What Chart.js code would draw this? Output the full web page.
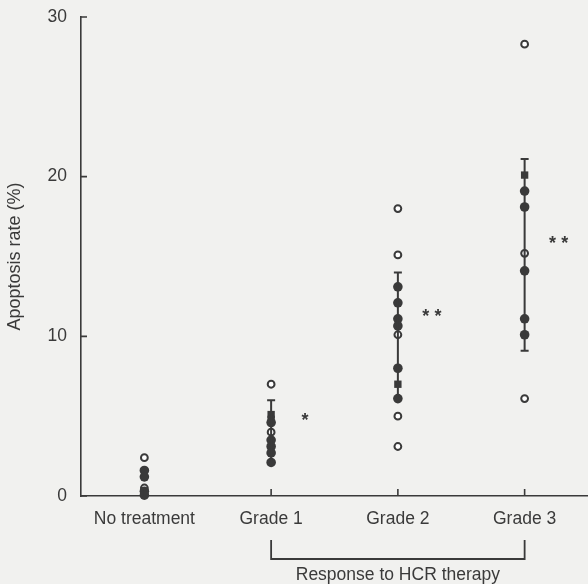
<!DOCTYPE html>
<html>
<head>
    <title>Apoptosis rate</title>
    <script src="https://cdn.jsdelivr.net/npm/chart.js@4.4.1/dist/chart.umd.min.js"></script>
    <style>
        body { margin: 0; background: #f1f1ef; }
        #wrap { width: 588px; height: 584px; }
    </style>
</head>
<body>
<div id="wrap"><canvas id="myChart" width="588" height="584"></canvas></div>
<script>
    // categories on the x axis
    const categories = ['No treatment', 'Grade 1', 'Grade 2', 'Grade 3'];

    // individual cases, one list per category (same order as categories)
    const filledCircles = [
        [1.6, 1.2, 0.3, 0.05],
        [4.6, 3.5, 3.1, 2.7, 2.1],
        [13.1, 12.1, 11.1, 10.65, 8.0, 6.1],
        [19.1, 18.1, 14.1, 11.1, 10.1]
    ];
    const openCircles = [
        [2.4, 0.5],
        [7.0, 4.0],
        [18.0, 15.1, 10.1, 5.0, 3.1],
        [28.3, 15.2, 6.1]
    ];
    const squares = [
        [],
        [5.1, 4.8],
        [7.0],
        [20.1]
    ];

    // mean +/- SD bars (null = none drawn)
    const barLow  = [null, 2.1, 6.1, 9.1];
    const barHigh = [null, 6.0, 14.0, 21.1];

    // significance marks
    const stars    = ['', '*', '**', '**'];
    const starY    = [null, 4.9, 11.4, 16.0];

    const yTicks = [0, 10, 20, 30];

    const ink = '#3a3a3a';
    const fontFam = '"Liberation Sans", Arial, sans-serif';

    function toPoints(lists) {
        const pts = [];
        lists.forEach((vals, i) => vals.forEach(v => pts.push({x: categories[i], y: v})));
        return pts;
    }

    // draws axis ticks (inward), error bars, asterisks and the bracket
    const extras = {
        id: 'extras',
        afterDatasetsDraw(chart) {
            const ctx = chart.ctx;
            const xs = chart.scales.x, ys = chart.scales.y;
            const area = chart.chartArea;
            ctx.save();
            ctx.strokeStyle = ink;
            ctx.lineWidth = 1.6;

            // inward ticks
            ctx.beginPath();
            yTicks.forEach(t => {
                const py = ys.getPixelForValue(t);
                ctx.moveTo(area.left, py);
                ctx.lineTo(area.left + 6, py);
            });
            categories.forEach((c, i) => {
                const px = xs.getPixelForValue(i);
                ctx.moveTo(px, area.bottom);
                ctx.lineTo(px, area.bottom - 7);
            });
            ctx.stroke();

            // error bars
            ctx.lineWidth = 2;
            barLow.forEach((lo, i) => {
                if (lo === null) return;
                const px = xs.getPixelForValue(i);
                const y1 = ys.getPixelForValue(lo), y2 = ys.getPixelForValue(barHigh[i]);
                ctx.beginPath();
                ctx.moveTo(px, y1); ctx.lineTo(px, y2);
                ctx.moveTo(px - 4, y1); ctx.lineTo(px + 4, y1);
                ctx.moveTo(px - 4, y2); ctx.lineTo(px + 4, y2);
                ctx.stroke();
            });

            // asterisks
            ctx.fillStyle = ink;
            ctx.font = 'bold 18px ' + fontFam;
            ctx.textAlign = 'center';
            ctx.textBaseline = 'middle';
            stars.forEach((s, i) => {
                if (!s) return;
                ctx.fillText(s.split('').join(' '), xs.getPixelForValue(i) + 34, ys.getPixelForValue(starY[i]) + 3);
            });

            // bracket under the graded groups
            const bx1 = xs.getPixelForValue(1), bx2 = xs.getPixelForValue(3);
            const top = area.bottom + 44, bot = area.bottom + 63;
            ctx.lineWidth = 1.8;
            ctx.beginPath();
            ctx.moveTo(bx1, top); ctx.lineTo(bx1, bot); ctx.lineTo(bx2, bot); ctx.lineTo(bx2, top);
            ctx.stroke();
            ctx.font = '17.5px ' + fontFam;
            ctx.fillText('Response to HCR therapy', (bx1 + bx2) / 2, bot + 16);
            ctx.restore();
        }
    };

    const base = {
        showLine: false,
        borderColor: ink,
        pointHoverRadius: 0
    };

    const myChart = new Chart(document.getElementById('myChart'), {
        type: 'line',
        data: {
            labels: categories,
            datasets: [
                Object.assign({}, base, {
                    label: 'filled', data: toPoints(filledCircles),
                    pointStyle: 'circle', pointRadius: 4.8, backgroundColor: ink, pointBorderWidth: 0
                }),
                Object.assign({}, base, {
                    label: 'square', data: toPoints(squares),
                    pointStyle: 'rect', pointRadius: 5.2, backgroundColor: ink, pointBorderWidth: 0
                }),
                Object.assign({}, base, {
                    label: 'open', data: toPoints(openCircles),
                    pointStyle: 'circle', pointRadius: 3.4, backgroundColor: '#ffffff', pointBorderWidth: 2
                })
            ]
        },
        options: {
            responsive: false,
            animation: false,
            clip: false,
            layout: { autoPadding: false, padding: { top: 17, right: 0, bottom: 0, left: 0 } },
            plugins: { legend: { display: false }, tooltip: { enabled: false } },
            scales: {
                x: {
                    type: 'category',
                    offset: true,
                    grid: { display: false, drawTicks: false, offset: false },
                    border: { display: true, color: ink, width: 1.6 },
                    ticks: { color: ink, padding: 13, font: { family: fontFam, size: 17.5 } },
                    afterFit(s) { s.height = 88; s.paddingLeft = 0; s.paddingRight = 0; }
                },
                y: {
                    min: 0, max: 30,
                    afterBuildTicks(s) { s.ticks = yTicks.map(v => ({value: v})); },
                    grid: { display: false, drawTicks: false },
                    border: { display: true, color: ink, width: 1.6 },
                    ticks: { color: ink, padding: 14, font: { family: fontFam, size: 17.5 } },
                    title: {
                        display: true, text: 'Apoptosis rate (%)', color: ink,
                        font: { family: fontFam, size: 18 }, padding: { top: 4, bottom: 0 }
                    },
                    afterFit(s) { s.width = 81; s.paddingTop = 0; s.paddingBottom = 0; }
                }
            }
        },
        plugins: [extras]
    });
</script>
</body>
</html>
